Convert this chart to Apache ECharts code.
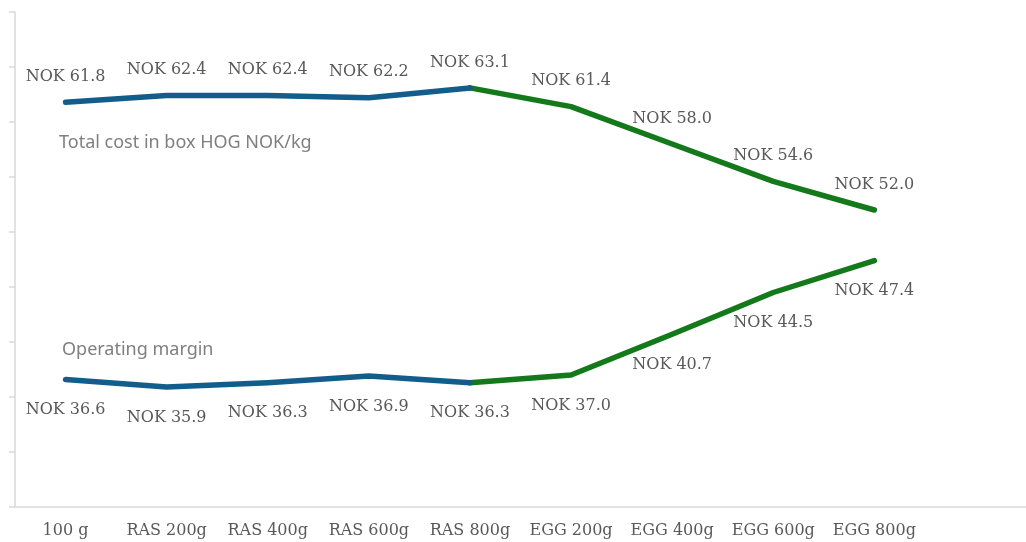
<!DOCTYPE html>
<html>
<head>
<meta charset="utf-8">
<script src="https://cdn.jsdelivr.net/npm/echarts@6/dist/echarts.min.js"></script>
<style>
  html, body { margin: 0; padding: 0; background: #fff; }
  #chart { width: 1026px; height: 542px; }
</style>
</head>
<body>
<div id="chart"></div>
<script>
// Production scenarios (the last slot is a spare band on the category axis)
const categories = ['100 g', 'RAS 200g', 'RAS 400g', 'RAS 600g', 'RAS 800g',
                    'EGG 200g', 'EGG 400g', 'EGG 600g', 'EGG 800g', ''];
// NOK per kg
const totalCost = [61.8, 62.4, 62.4, 62.2, 63.1, 61.4, 58.0, 54.6, 52.0];
const operatingMargin = [36.6, 35.9, 36.3, 36.9, 36.3, 37.0, 40.7, 44.5, 47.4];
const seriesNames = ['Total cost in box HOG NOK/kg', 'Operating margin'];

// RAS scenarios in blue, EGG scenarios in green (switch at RAS 800g)
const BLUE = '#125d8b';
const GREEN = '#14791b';
const SWITCH_INDEX = 4;

const labelFont = {
  fontFamily: 'DejaVu Serif',
  fontSize: 16,
  color: '#595959'
};

const fmt = p => 'NOK ' + Number(p.value).toFixed(1);

// Split one series into a blue (RAS) part and a green (EGG) part sharing the switch point
function segment(values, fromIdx, toIdx, hideLabelAt) {
  return values.map((v, i) => {
    if (i < fromIdx || i > toIdx) return '-';
    if (i === hideLabelAt) return { value: v, label: { show: false } };
    return v;
  });
}

function lineSeries(name, values, color, part, labelPos, labelDist) {
  const data = part === 'ras'
    ? segment(values, 0, SWITCH_INDEX, -1)
    : segment(values, SWITCH_INDEX, values.length - 1, SWITCH_INDEX);
  return {
    name: name,
    type: 'line',
    data: data,
    symbol: 'circle',
    symbolSize: 1,
    showSymbol: true,
    showAllSymbol: true,
    connectNulls: false,
    z: part === 'ras' ? 3 : 2,
    lineStyle: { width: 5.5, color: color, cap: 'round', join: 'round' },
    itemStyle: { color: color, borderWidth: 0 },
    label: { show: true, position: labelPos, distance: labelDist, formatter: fmt, ...labelFont }
  };
}

const chart = echarts.init(document.getElementById('chart'));
chart.setOption({
  animation: false,
  backgroundColor: '#fff',
  grid: { left: 15, right: -15, top: 12, bottom: 35 },
  xAxis: {
    type: 'category',
    data: categories,
    boundaryGap: true,
    axisLine: { lineStyle: { color: '#d9d9d9', width: 1.5 } },
    axisTick: { show: false },
    axisLabel: { ...labelFont, margin: 16, interval: 0 }
  },
  yAxis: {
    type: 'value',
    min: 25,
    max: 70,
    interval: 5,
    axisLine: { show: true, lineStyle: { color: '#d9d9d9', width: 1.5 } },
    axisTick: { show: true, inside: false, length: 6, lineStyle: { color: '#d9d9d9', width: 1.5 } },
    axisLabel: { show: false },
    splitLine: { show: false }
  },
  series: [
    lineSeries(seriesNames[0], totalCost, BLUE, 'ras', 'top', 17),
    lineSeries(seriesNames[0], totalCost, GREEN, 'egg', 'top', 17),
    lineSeries(seriesNames[1], operatingMargin, BLUE, 'ras', 'bottom', 22),
    lineSeries(seriesNames[1], operatingMargin, GREEN, 'egg', 'bottom', 22)
  ],
  graphic: [
    {
      type: 'text', left: 59, top: 134,
      style: { text: seriesNames[0], font: '18px "Noto Sans"', fill: '#7f7f7f' }
    },
    {
      type: 'text', left: 62, top: 341,
      style: { text: seriesNames[1], font: '18px "Noto Sans"', fill: '#7f7f7f' }
    }
  ]
});
</script>
</body>
</html>
